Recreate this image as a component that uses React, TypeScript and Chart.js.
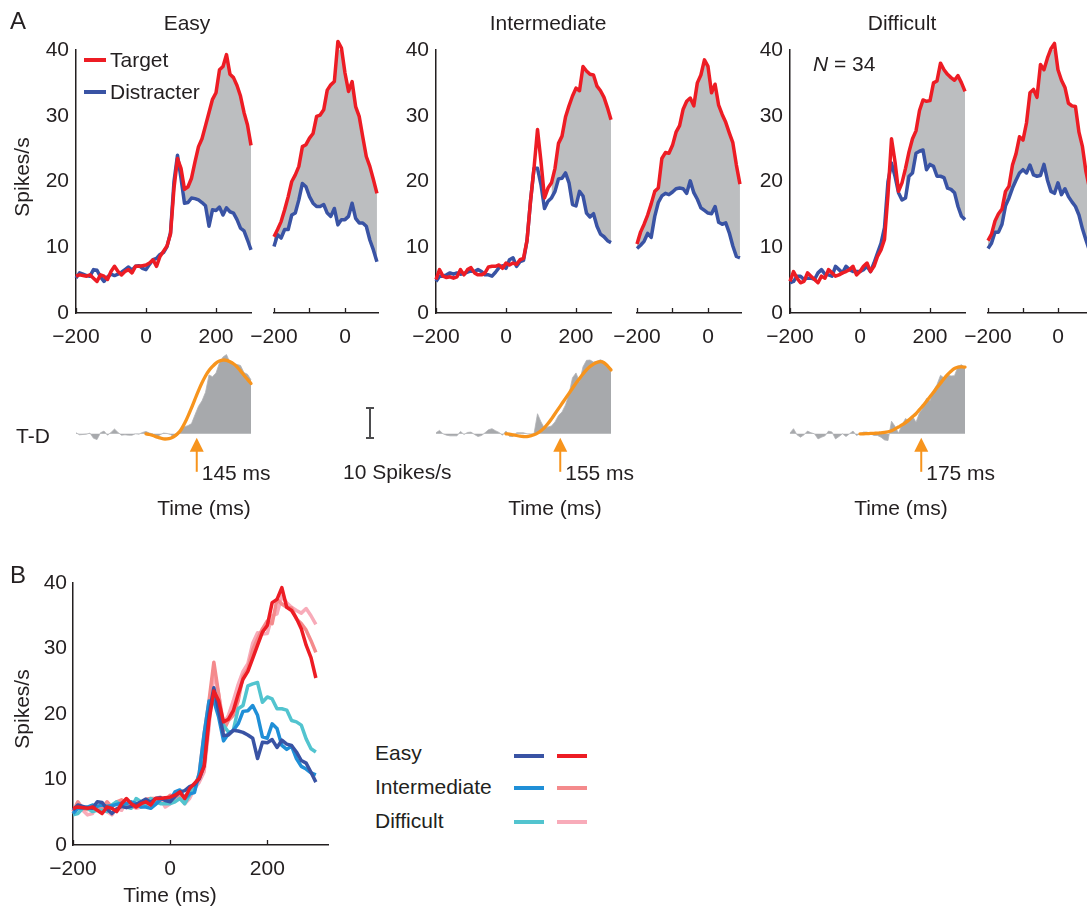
import React, { useEffect, useRef } from 'react';
import { Chart, registerables } from 'chart.js';

Chart.register(...registerables);

// ---------------- DATA ----------------
const STIM_TIME = [-200, -190, -180, -170, -160, -150, -140, -130, -120, -110, -100, -90, -80, -70, -60, -50, -40, -30, -20, -10, 0, 10, 20, 30, 40, 50, 60, 70, 80, 90, 100, 110, 120, 130, 140, 150, 160, 170, 180, 190, 200, 210, 220, 230, 240, 250, 260, 270, 280, 290, 300];
const SACC_TIME = [-200, -190, -180, -170, -160, -150, -140, -130, -120, -110, -100, -90, -80, -70, -60, -50, -40, -30, -20, -10, 0, 10, 20, 30, 40, 50, 60, 70, 80, 90];
const FIT_TIME = [0, 10, 20, 30, 40, 50, 60, 70, 80, 90, 100, 110, 120, 130, 140, 150, 160, 170, 180, 190, 200, 210, 220, 230, 240, 250, 260, 270, 280, 290, 300];

// Easy
const EASY_TARGET = [5.6, 5.8, 5.7, 5.6, 5.8, 5.3, 4.8, 5.8, 5.6, 5.1, 6.3, 7.1, 6.3, 5.8, 6.3, 6.6, 6.1, 7.1, 7.1, 7.2, 7.3, 7.6, 8.1, 7.1, 8.6, 9.4, 10.2, 12, 19, 23.5, 22, 18.8, 19.2, 20.5, 23, 25.3, 26.5, 28.5, 30.5, 32.5, 33.5, 37, 37.5, 39.3, 36.3, 35.8, 34.6, 33, 30.5, 28.6, 25.5];
const EASY_DISTRACTER = [5.3, 6.1, 5.9, 5.7, 5.6, 6.6, 6.5, 5.5, 4.8, 5.5, 5.9, 5.7, 5.9, 6.2, 6.6, 7, 6.5, 7.1, 7.2, 6.8, 6.6, 7.4, 8.1, 8.3, 8.9, 9.2, 10.1, 12.2, 20, 24, 20.5, 16.7, 16.8, 17.5, 17.4, 17.2, 16.8, 16.3, 13.2, 15.7, 15.6, 16.1, 14.9, 16, 15.4, 15.2, 14.2, 12.9, 12.5, 11.1, 9.6];
const EASY_SACC_TARGET = [11.6, 12.7, 13.9, 15.7, 17.7, 20, 21, 22.3, 25.3, 25.6, 26.6, 27.3, 29.9, 30.1, 30.9, 33.9, 34.7, 35.2, 41.3, 40.3, 36.5, 33.7, 35.2, 31.4, 29.9, 26.8, 23.8, 22.3, 20.3, 18.2];
const EASY_SACC_DISTRACTER = [10.1, 11.9, 11.4, 12.7, 12.7, 14.9, 15.2, 17.2, 19.7, 19.2, 17.7, 16.7, 16.2, 16.2, 16.5, 15.2, 14.7, 15.9, 13.4, 14.2, 14.2, 14.7, 16.7, 14.4, 13.7, 13.7, 13.2, 11.1, 9.6, 7.8];
const EASY_FIT = [0, -0.2, -0.5, -0.9, -1.2, -1.5, -1.5, -1.3, -0.8, 0, 1.2, 3, 5.2, 7.6, 10.2, 12.7, 15, 17, 18.6, 19.8, 20.8, 21.4, 21.7, 21.6, 21.2, 20.6, 19.7, 18.5, 17.2, 16, 14.8];

// Intermediate
const INT_TARGET = [5.1, 6.6, 5.6, 5.4, 5.5, 5.3, 5.5, 6.6, 5.8, 6.6, 6.9, 6.1, 5.8, 5.8, 6.1, 7.0, 7.1, 7.1, 7.3, 6.8, 7.6, 7.3, 7.6, 7.4, 8.1, 8.3, 11, 17, 22, 27.9, 23, 17.5, 19, 19.8, 22, 25.8, 26.9, 29.8, 31.5, 33, 34.2, 33.8, 37.5, 36.8, 36.3, 36.2, 34.5, 33.8, 32.8, 31.2, 29.4];
const INT_DISTRACTER = [4.8, 5.6, 5.6, 5.8, 6.1, 5.9, 6.1, 5.9, 6.0, 6.2, 6.4, 6.3, 6.6, 6.3, 5.8, 5.8, 5.6, 6.2, 6.9, 7.2, 6.8, 8.1, 8.4, 7.1, 7.8, 8.0, 11, 17, 22, 22, 19.5, 15.9, 17, 17.5, 18.5, 20.4, 20.5, 21.3, 19.8, 16.5, 16.3, 18.5, 17.8, 15.2, 14.6, 15.1, 13.2, 12, 11.6, 11, 10.7];
const INT_SACC_TARGET = [10.5, 12.3, 13.5, 14.9, 16.6, 18.5, 19, 23.5, 24.4, 24.3, 25.5, 27.5, 28.5, 31, 32.2, 32.7, 31.5, 35, 36.2, 38.5, 37.5, 33.5, 34.8, 31.6, 30.2, 29, 27.4, 25.9, 22.5, 19.6];
const INT_SACC_DISTRACTER = [9.8, 10.3, 10.9, 12.1, 11.5, 14.7, 16.8, 17.8, 18.2, 18, 18.4, 18.9, 19, 18.9, 18.2, 20.1, 18.3, 17.3, 16, 15.6, 15.2, 15.1, 16.2, 13.8, 13.5, 13.7, 12.2, 10.2, 8.6, 8.4];
const INT_FIT = [0, -0.1, -0.3, -0.5, -0.7, -0.8, -0.8, -0.6, -0.3, 0.2, 0.9, 1.8, 3, 4.4, 5.9, 7.4, 8.9, 10.4, 11.9, 13.4, 14.9, 16.3, 17.6, 18.8, 19.8, 20.5, 21, 21.2, 20.9, 20, 18.8];

// Difficult
const DIFF_TARGET = [4.8, 6.3, 5.3, 4.6, 4.8, 6.1, 5.6, 5.1, 4.6, 5.6, 5.3, 6.6, 6.1, 5.6, 5.8, 6.1, 6.3, 6.6, 7.1, 5.8, 6.3, 7.1, 7.6, 6.3, 7.1, 8.6, 9.6, 11.2, 18, 26.5, 23, 18.5, 19.8, 22, 24.5, 26.5, 27.7, 30.8, 32.4, 32.2, 32.3, 35, 35.3, 38, 37, 36.3, 35.8, 35.4, 36.1, 35, 33.7];
const DIFF_DISTRACTER = [4.6, 4.8, 5.6, 5.6, 5.1, 5.3, 5.3, 5.1, 6.1, 6.6, 5.9, 5.8, 5.6, 7.1, 6.6, 6.1, 7.1, 6.6, 6.3, 6.3, 6.3, 6.6, 7.1, 6.3, 7.6, 9.1, 10.6, 13, 20, 22.8, 20.8, 18.3, 17.2, 17.5, 20.8, 21.3, 24.3, 24.6, 24.8, 21.8, 22.6, 22.3, 20.8, 20.8, 20.6, 19, 18.8, 18.3, 16.2, 14.7, 14.2];
const DIFF_SACC_TARGET = [11, 12, 14, 15.1, 15.8, 18.5, 19.3, 22.5, 24.2, 26.8, 26.3, 28.9, 33.5, 34, 32.8, 37.8, 37, 38.8, 40.2, 41, 37, 35.4, 34.3, 31.9, 31.5, 31.4, 27.5, 25.3, 21.5, 19];
const DIFF_SACC_DISTRACTER = [9.8, 10.6, 12.3, 12.3, 13.5, 16.3, 17.5, 19, 20.2, 21.3, 21.8, 21.3, 22.5, 21, 20.8, 20.9, 22.6, 20.2, 18.5, 18.2, 19.8, 18, 18.9, 17.7, 16.9, 16.2, 14.9, 12.8, 11.1, 9.5];
const DIFF_FIT = [0, 0, 0.05, 0.1, 0.15, 0.2, 0.3, 0.4, 0.6, 0.9, 1.4, 2, 2.6, 3.3, 4.1, 5, 5.9, 7.1, 8.3, 9.6, 10.9, 12.2, 13.6, 14.9, 16.2, 17.4, 18.4, 19.2, 19.6, 19.7, 19.6];

// onset times (ms) and fill start times
const ONSETS = [145, 155, 175];
const ONSET_LABELS = ['145 ms', '155 ms', '175 ms'];
const FILL_FROM = [110, 130, 130];

// tick values / labels
const Y_TICKS = [0, 10, 20, 30, 40];
const STIM_TICKS = [-200, 0, 200];
const STIM_TICK_LABELS = ['\u2212200', '0', '200'];
const SACC_TICKS = [-200, -100, 0];
const SACC_TICK_LABELS = ['\u2212200', '', '0'];
const B_TICKS = [-200, 0, 200];
const B_TICK_LABELS = ['\u2212200', '0', '200'];

// ---------------- STYLE ----------------
const FONT = '"Liberation Sans", Arial, Helvetica, sans-serif';
const INK = '#231f20';
const RED = '#ed1c24';
const BLUE = '#3953a4';
const FILL = '#bcbec0';
const TD_GRAY = '#a7a9ac';
const ORANGE = '#f7941d';
const INT_BLUE = '#1f8fd7';
const DIFF_CYAN = '#52c4cf';
const INT_SALMON = '#f48a8c';
const DIFF_PINK = '#f8abb9';
const FS = 21;
const LW = 3.5;
const AX_W = 60; // fixed width of y-axis box
const AX_H = 45; // fixed height of x-axis box

type Box = { x: number; y: number; w: number; h: number };
type Area = { l: number; r: number; t: number; b: number };

const pts = (xs: number[], ys: number[]) => xs.map((x, i) => ({ x, y: ys[i] }));
const ptsFrom = (xs: number[], ys: number[], from: number) => pts(xs, ys).filter((p) => p.x >= from);

const fitFixed = (s: any) => {
  if (s.isHorizontal()) s.height = AX_H;
  else s.width = AX_W;
  s.paddingLeft = 0;
  s.paddingRight = 0;
  s.paddingTop = 0;
  s.paddingBottom = 0;
};

const inTicks = {
  id: 'inTicks',
  afterDraw(chart: any) {
    const s = chart.scales.x;
    if (!s || !s.options.display) return;
    const ctx = chart.ctx;
    const y = chart.chartArea.bottom;
    ctx.save();
    ctx.strokeStyle = INK;
    ctx.lineWidth = 1.3;
    s.ticks.forEach((t: any) => {
      const x = Math.round(s.getPixelForValue(t.value)) + 0.5;
      ctx.beginPath();
      ctx.moveTo(x, y);
      ctx.lineTo(x, y - 5);
      ctx.stroke();
    });
    ctx.restore();
  },
};

const arrowMark = {
  id: 'arrowMark',
  afterDraw(chart: any, _args: any, opts: any) {
    const x = chart.scales.x.getPixelForValue(opts.time);
    const y0 = chart.scales.y.getPixelForValue(0);
    const ctx = chart.ctx;
    ctx.save();
    ctx.strokeStyle = ORANGE;
    ctx.fillStyle = ORANGE;
    ctx.lineWidth = 2;
    ctx.beginPath();
    ctx.moveTo(x, y0 + 14);
    ctx.lineTo(x, y0 + 38);
    ctx.stroke();
    ctx.beginPath();
    ctx.moveTo(x, y0 + 4);
    ctx.lineTo(x - 7, y0 + 18);
    ctx.lineTo(x + 7, y0 + 18);
    ctx.closePath();
    ctx.fill();
    ctx.fillStyle = INK;
    ctx.font = `${FS}px ${FONT}`;
    ctx.textBaseline = 'alphabetic';
    ctx.textAlign = 'left';
    ctx.fillText(opts.label, x + 5, y0 + 46);
    ctx.restore();
  },
};

function lineDs(data: any[], color: string, width = LW) {
  return {
    data,
    borderColor: color,
    backgroundColor: color,
    borderWidth: width,
    pointRadius: 0,
    tension: 0,
    fill: false,
    clip: false,
    borderJoinStyle: 'round',
    borderCapStyle: 'butt',
  };
}

function xAxis(min: number, max: number, ticks: number[], labels: string[], pad: number) {
  return {
    type: 'linear',
    min,
    max,
    afterBuildTicks: (s: any) => {
      s.ticks = ticks.map((v) => ({ value: v }));
    },
    afterFit: fitFixed,
    grid: { display: false, drawTicks: false },
    border: { display: true, color: INK, width: 1.5 },
    ticks: {
      color: INK,
      font: { family: FONT, size: FS },
      padding: pad,
      maxRotation: 0,
      autoSkip: false,
      callback: (_v: any, i: number) => labels[i],
    },
  };
}

function yAxis(show: boolean, pad = 7) {
  if (!show) return { type: 'linear', min: 0, max: 40, display: false };
  return {
    type: 'linear',
    min: 0,
    max: 40,
    afterBuildTicks: (s: any) => {
      s.ticks = Y_TICKS.map((v) => ({ value: v }));
    },
    afterFit: fitFixed,
    grid: { display: false, drawTicks: false },
    border: { display: true, color: INK, width: 1.5 },
    ticks: { color: INK, font: { family: FONT, size: FS }, padding: pad, autoSkip: false },
  };
}

const noPlugins = { legend: { display: false }, tooltip: { enabled: false } };

function topConfig(times: number[], target: number[], distracter: number[], fillFrom: number, xMin: number, xMax: number, ticks: number[], labels: string[], showY: boolean) {
  return {
    type: 'line',
    data: {
      datasets: [
        lineDs(pts(times, target), RED),
        lineDs(pts(times, distracter), BLUE),
        { data: ptsFrom(times, target, fillFrom), borderColor: 'rgba(0,0,0,0)', borderWidth: 0, pointRadius: 0, tension: 0, fill: '+1', backgroundColor: FILL, clip: false },
        { data: ptsFrom(times, distracter, fillFrom), borderColor: 'rgba(0,0,0,0)', borderWidth: 0, pointRadius: 0, tension: 0, fill: false, clip: false },
      ],
    },
    options: {
      scales: { x: xAxis(xMin, xMax, ticks, labels, 12), y: yAxis(showY) },
      plugins: noPlugins,
    },
    plugins: [inTicks],
  };
}

function tdConfig(target: number[], distracter: number[], fit: number[], time: number, label: string) {
  const diff = target.map((v, i) => Math.round((v - distracter[i]) * 100) / 100);
  return {
    type: 'line',
    data: {
      datasets: [
        { ...lineDs(pts(FIT_TIME, fit), ORANGE, 3.3), tension: 0.35, borderCapStyle: 'round' },
        { data: pts(STIM_TIME, diff), borderColor: '#b1b3b6', borderWidth: 0.8, backgroundColor: TD_GRAY, fill: 'origin', pointRadius: 0, tension: 0, clip: false },
      ],
    },
    options: {
      scales: {
        x: { type: 'linear', min: -200, max: 300, display: false },
        y: { type: 'linear', min: -3, max: 27, display: false },
      },
      plugins: { ...noPlugins, arrowMark: { time, label } },
    },
    plugins: [arrowMark],
  };
}

function bConfig() {
  return {
    type: 'line',
    data: {
      datasets: [
        lineDs(pts(STIM_TIME, EASY_TARGET), RED),
        lineDs(pts(STIM_TIME, EASY_DISTRACTER), BLUE),
        lineDs(pts(STIM_TIME, INT_DISTRACTER), INT_BLUE),
        lineDs(pts(STIM_TIME, DIFF_DISTRACTER), DIFF_CYAN),
        lineDs(pts(STIM_TIME, INT_TARGET), INT_SALMON),
        lineDs(pts(STIM_TIME, DIFF_TARGET), DIFF_PINK),
      ],
    },
    options: {
      scales: { x: xAxis(-200, 325, B_TICKS, B_TICK_LABELS, 12), y: yAxis(true, 6) },
      plugins: noPlugins,
    },
    plugins: [inTicks],
  };
}

function ChartCanvas({ box, area, build, hasX = false, hasY = false }: { box: Box; area: Area; build: () => any; hasX?: boolean; hasY?: boolean }) {
  const ref = useRef<HTMLCanvasElement>(null);
  useEffect(() => {
    const cfg = build();
    cfg.options.responsive = false;
    cfg.options.maintainAspectRatio = false;
    cfg.options.animation = false;
    cfg.options.devicePixelRatio = 1;
    cfg.options.events = [];
    cfg.options.layout = {
      padding: {
        left: area.l - box.x - (hasY ? AX_W : 0),
        right: box.x + box.w - area.r,
        top: area.t - box.y,
        bottom: box.y + box.h - area.b - (hasX ? AX_H : 0),
      },
    };
    const chart = new Chart(ref.current as HTMLCanvasElement, cfg);
    return () => chart.destroy();
  }, []);
  return (
    <canvas
      ref={ref}
      width={box.w}
      height={box.h}
      style={{ position: 'absolute', left: box.x, top: box.y, width: box.w, height: box.h }}
    />
  );
}

function Txt({ x, base, size = FS, align = 'left', children, style }: any) {
  const top = base - size * 0.8465;
  const tr = align === 'center' ? 'translateX(-50%)' : align === 'right' ? 'translateX(-100%)' : 'none';
  return (
    <div
      style={{
        position: 'absolute',
        left: x,
        top,
        fontSize: size,
        lineHeight: `${size}px`,
        whiteSpace: 'nowrap',
        transform: tr,
        color: INK,
        fontFamily: FONT,
        ...style,
      }}
    >
      {children}
    </div>
  );
}

function VTxt({ cx, cy, size = FS, children }: any) {
  return (
    <div
      style={{
        position: 'absolute',
        left: cx,
        top: cy,
        transform: 'translate(-50%, -50%) rotate(-90deg)',
        fontSize: size,
        lineHeight: `${size}px`,
        whiteSpace: 'nowrap',
        color: INK,
        fontFamily: FONT,
      }}
    >
      {children}
    </div>
  );
}

function HLine({ x1, x2, y, color, w = 3.5 }: any) {
  return <div style={{ position: 'absolute', left: x1, top: y - w / 2, width: x2 - x1, height: w, background: color }} />;
}

const TOP_T = 50;
const TOP_B = 313;
const TD_T = 342;
const TD_B = 444;

export default function App() {
  return (
    <div
      style={{
        position: 'absolute',
        left: 0,
        top: 0,
        width: 1087,
        height: 907,
        overflow: 'hidden',
        background: '#fff',
        fontFamily: FONT,
        color: INK,
      }}
    >
      {/* Panel A top row */}
      <ChartCanvas hasX hasY box={{ x: 0, y: 30, w: 290, h: 340 }} area={{ l: 76, r: 251, t: TOP_T, b: TOP_B }}
        build={() => topConfig(STIM_TIME, EASY_TARGET, EASY_DISTRACTER, FILL_FROM[0], -200, 300, STIM_TICKS, STIM_TICK_LABELS, true)} />
      <ChartCanvas hasX box={{ x: 245, y: 30, w: 150, h: 340 }} area={{ l: 274, r: 378, t: TOP_T, b: TOP_B }}
        build={() => topConfig(SACC_TIME, EASY_SACC_TARGET, EASY_SACC_DISTRACTER, -200, -200, 93, SACC_TICKS, SACC_TICK_LABELS, false)} />
      <ChartCanvas hasX hasY box={{ x: 370, y: 30, w: 260, h: 340 }} area={{ l: 436, r: 611, t: TOP_T, b: TOP_B }}
        build={() => topConfig(STIM_TIME, INT_TARGET, INT_DISTRACTER, FILL_FROM[1], -200, 300, STIM_TICKS, STIM_TICK_LABELS, true)} />
      <ChartCanvas hasX box={{ x: 605, y: 30, w: 155, h: 340 }} area={{ l: 637, r: 741, t: TOP_T, b: TOP_B }}
        build={() => topConfig(SACC_TIME, INT_SACC_TARGET, INT_SACC_DISTRACTER, -200, -200, 93, SACC_TICKS, SACC_TICK_LABELS, false)} />
      <ChartCanvas hasX hasY box={{ x: 725, y: 30, w: 260, h: 340 }} area={{ l: 790, r: 965, t: TOP_T, b: TOP_B }}
        build={() => topConfig(STIM_TIME, DIFF_TARGET, DIFF_DISTRACTER, FILL_FROM[2], -200, 300, STIM_TICKS, STIM_TICK_LABELS, true)} />
      <ChartCanvas hasX box={{ x: 955, y: 30, w: 132, h: 340 }} area={{ l: 988, r: 1087, t: TOP_T, b: TOP_B }}
        build={() => topConfig(SACC_TIME, DIFF_SACC_TARGET, DIFF_SACC_DISTRACTER, -200, -200, 83, SACC_TICKS, SACC_TICK_LABELS, false)} />

      {/* Panel A T-D row */}
      <ChartCanvas box={{ x: 60, y: 332, w: 240, h: 160 }} area={{ l: 76, r: 251, t: TD_T, b: TD_B }}
        build={() => tdConfig(EASY_TARGET, EASY_DISTRACTER, EASY_FIT, ONSETS[0], ONSET_LABELS[0])} />
      <ChartCanvas box={{ x: 420, y: 332, w: 260, h: 160 }} area={{ l: 436, r: 611, t: TD_T, b: TD_B }}
        build={() => tdConfig(INT_TARGET, INT_DISTRACTER, INT_FIT, ONSETS[1], ONSET_LABELS[1])} />
      <ChartCanvas box={{ x: 775, y: 332, w: 260, h: 160 }} area={{ l: 790, r: 965, t: TD_T, b: TD_B }}
        build={() => tdConfig(DIFF_TARGET, DIFF_DISTRACTER, DIFF_FIT, ONSETS[2], ONSET_LABELS[2])} />

      {/* Panel B */}
      <ChartCanvas hasX hasY box={{ x: 0, y: 565, w: 350, h: 330 }} area={{ l: 73, r: 328, t: 583, b: 845 }} build={bConfig} />

      {/* Texts panel A */}
      <Txt x={10} base={29.5} size={24}>A</Txt>
      <Txt x={187} base={29.5} align="center">Easy</Txt>
      <Txt x={548} base={29.5} align="center">Intermediate</Txt>
      <Txt x={902} base={29.5} align="center">Difficult</Txt>
      <VTxt cx={21} cy={177}>Spikes/s</VTxt>
      <HLine x1={84} x2={106} y={60} color={RED} w={4} />
      <HLine x1={84} x2={106} y={92} color={BLUE} w={4} />
      <Txt x={110} base={67}>Target</Txt>
      <Txt x={110} base={99}>Distracter</Txt>
      <Txt x={813} base={71}><i>N</i> = 34</Txt>

      <Txt x={16} base={443}>T-D</Txt>
      <div style={{ position: 'absolute', left: 369.25, top: 408, width: 1.5, height: 30, background: '#4d4d4f' }} />
      <div style={{ position: 'absolute', left: 366, top: 407.25, width: 8, height: 1.5, background: '#4d4d4f' }} />
      <div style={{ position: 'absolute', left: 366, top: 437.25, width: 8, height: 1.5, background: '#4d4d4f' }} />
      <Txt x={343} base={479}>10 Spikes/s</Txt>
      <Txt x={204} base={515} align="center">Time (ms)</Txt>
      <Txt x={555} base={515} align="center">Time (ms)</Txt>
      <Txt x={901} base={515} align="center">Time (ms)</Txt>

      {/* Texts panel B */}
      <Txt x={10} base={583} size={24}>B</Txt>
      <VTxt cx={21} cy={709}>Spikes/s</VTxt>
      <Txt x={170} base={902} align="center">Time (ms)</Txt>
      <Txt x={375} base={760}>Easy</Txt>
      <Txt x={375} base={794}>Intermediate</Txt>
      <Txt x={375} base={828}>Difficult</Txt>
      <HLine x1={514} x2={544} y={756} color={BLUE} />
      <HLine x1={557} x2={587} y={756} color={RED} />
      <HLine x1={514} x2={544} y={788} color={INT_BLUE} />
      <HLine x1={557} x2={587} y={788} color={INT_SALMON} />
      <HLine x1={514} x2={544} y={822} color={DIFF_CYAN} />
      <HLine x1={557} x2={587} y={822} color={DIFF_PINK} />
    </div>
  );
}
